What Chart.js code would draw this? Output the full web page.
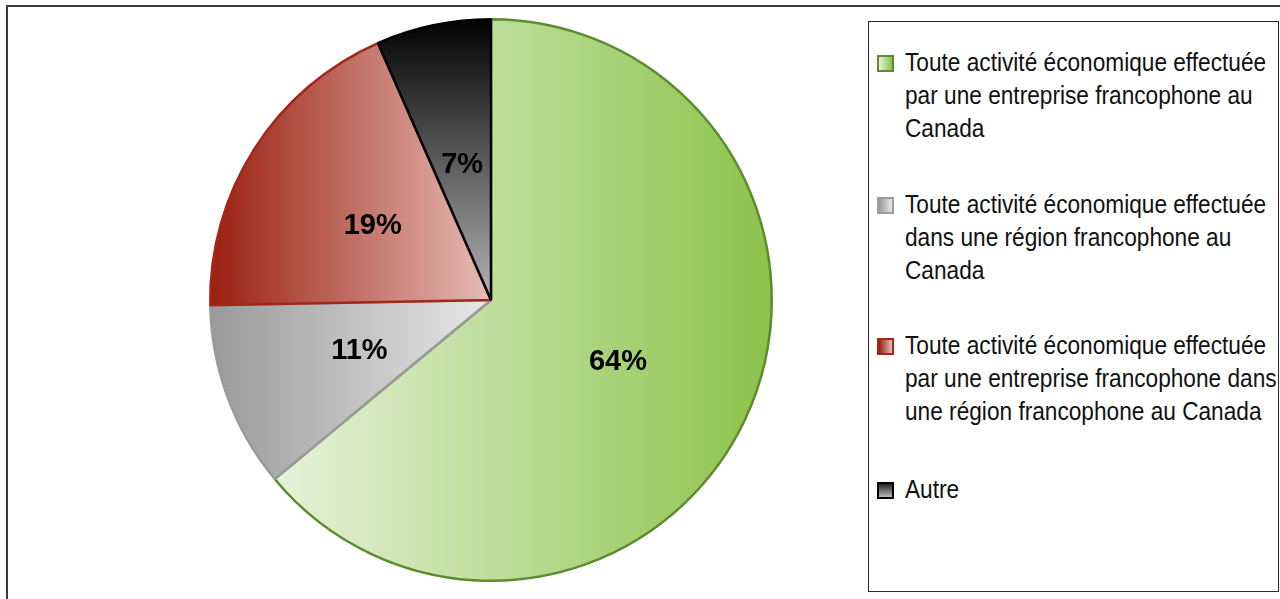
<!DOCTYPE html>
<html>
<head>
<meta charset="utf-8">
<script src="https://cdn.jsdelivr.net/npm/chart.js@4"></script>
<style>
  html, body { margin: 0; padding: 0; background: #fff; overflow: hidden; }
  body { width: 1280px; height: 599px; position: relative; }
  #frame { position: absolute; left: 6px; top: 5px; width: 1400px; height: 800px; border: 2px solid #3a3a3a; box-sizing: border-box; }
  #chart-wrap { position: absolute; left: 0; top: 0; width: 982px; height: 599px; }
  #legend { position: absolute; left: 868px; top: 21px; width: 411px; height: 571px; border: 1.5px solid #2a2a2a; box-sizing: border-box; background: #fff;
            font-family: "Liberation Sans", Arial, sans-serif; font-size: 26.5px; color: #111; }
  .item { position: absolute; left: 8px; }
  .marker { position: absolute; left: 0; top: 9px; width: 17px; height: 17px; box-sizing: border-box; border: 2px solid; }
  .text { position: absolute; left: 28px; white-space: nowrap; line-height: 33px; transform: scaleX(0.855); transform-origin: 0 0; }
</style>
</head>
<body>
<div id="frame"></div>
<div id="chart-wrap"><canvas id="pie"></canvas></div>
<div id="legend"></div>
<script>
'use strict';

/* DATA */
let categories = [
  ['Toute activité économique effectuée', 'par une entreprise francophone au', 'Canada'],
  ['Toute activité économique effectuée', 'dans une région francophone au', 'Canada'],
  ['Toute activité économique effectuée', 'par une entreprise francophone dans', 'une région francophone au Canada'],
  ['Autre'],
];
let shares = [64.0, 10.7, 18.7, 6.6];

/* STYLES */
let gradStops = [
  ['#e6f2da', '#8bc34a'],
  ['#999999', '#e8e8e8'],
  ['#9a1f10', '#e6bcb6'],
  ['#000000', '#b4b4b4'],
];
let gradDir = ['x', 'x', 'x', 'y'];
let borderColors = ['#5e8c2c', '#9a9a9a', '#a3261a', '#000000'];
let legendTops = [24, 166, 307, 451];

/* HELPERS */
function sliceBox(cx, cy, r, a0, a1) {
  let pts = [[cx, cy], [cx + r * Math.cos(a0), cy + r * Math.sin(a0)], [cx + r * Math.cos(a1), cy + r * Math.sin(a1)]];
  for (let k = -4; k <= 8; k++) {
    let a = k * Math.PI / 2;
    if (a > a0 && a < a1) pts.push([cx + r * Math.cos(a), cy + r * Math.sin(a)]);
  }
  let xs = pts.map(p => p[0]), ys = pts.map(p => p[1]);
  return { x0: Math.min(...xs), x1: Math.max(...xs), y0: Math.min(...ys), y1: Math.max(...ys) };
}

function sliceFill(context) {
  let chart = context.chart;
  let area = chart.chartArea;
  let i = context.dataIndex;
  if (!area || i === undefined) return gradStops[0][1];
  let cx = (area.left + area.right) / 2;
  let cy = (area.top + area.bottom) / 2;
  let r = Math.min(area.width, area.height) / 2;
  let total = shares.reduce((a, b) => a + b, 0);
  let before = shares.slice(0, i).reduce((a, b) => a + b, 0);
  let a0 = -Math.PI / 2 + before / total * 2 * Math.PI;
  let a1 = a0 + shares[i] / total * 2 * Math.PI;
  let b = sliceBox(cx, cy, r, a0, a1);
  let g = gradDir[i] === 'x'
    ? chart.ctx.createLinearGradient(b.x0, 0, b.x1, 0)
    : chart.ctx.createLinearGradient(0, b.y0, 0, b.y1);
  g.addColorStop(0, gradStops[i][0]);
  g.addColorStop(1, gradStops[i][1]);
  return g;
}

/* PERCENT LABELS */
let percentLabels = {
  id: 'percentLabels',
  afterDatasetsDraw(chart) {
    let ctx = chart.ctx;
    let total = shares.reduce((a, b) => a + b, 0);
    ctx.save();
    ctx.font = 'bold 29px "Liberation Sans", Arial, sans-serif';
    ctx.fillStyle = '#000';
    ctx.textAlign = 'center';
    ctx.textBaseline = 'middle';
    chart.getDatasetMeta(0).data.forEach((arc, i) => {
      let p = arc.getCenterPoint();
      ctx.fillText(Math.round(shares[i] / total * 100) + '%', p.x, p.y + 2);
    });
    ctx.restore();
  },
};

/* CHART */
new Chart(document.getElementById('pie').getContext('2d'), {
  type: 'pie',
  data: {
    labels: categories,
    datasets: [{
      data: shares,
      backgroundColor: sliceFill,
      borderColor: borderColors,
      borderWidth: 2.5,
    }],
  },
  options: {
    responsive: true,
    maintainAspectRatio: false,
    animation: false,
    layout: { padding: { left: 209, right: 209, top: 18, bottom: 17 } },
    plugins: { legend: { display: false }, tooltip: { enabled: false } },
  },
  plugins: [percentLabels],
});

/* LEGEND */
let legendElem = document.getElementById('legend');
categories.forEach((lines, i) => {
  let item = document.createElement('div');
  item.className = 'item';
  item.style.top = legendTops[i] + 'px';
  let marker = document.createElement('div');
  marker.className = 'marker';
  marker.style.borderColor = borderColors[i];
  marker.style.background = 'linear-gradient(to right, ' + gradStops[i][0] + ', ' + gradStops[i][1] + ')';
  if (i === 3) marker.style.background = 'linear-gradient(to bottom, #222, #bbb)';
  let text = document.createElement('div');
  text.className = 'text';
  text.innerHTML = lines.join('<br>');
  item.appendChild(marker);
  item.appendChild(text);
  legendElem.appendChild(item);
});
</script>
</body>
</html>
